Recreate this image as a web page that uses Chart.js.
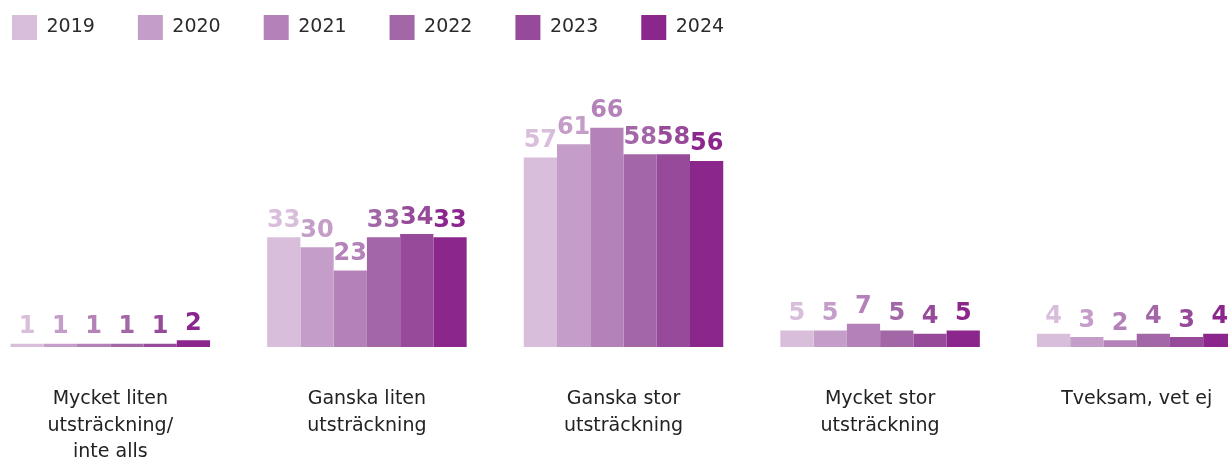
<!DOCTYPE html>
<html>
<head>
<meta charset="utf-8">
<script src="https://cdn.jsdelivr.net/npm/chart.js@4/dist/chart.umd.min.js"></script>
<style>
  html, body { margin: 0; padding: 0; background: #ffffff; overflow: hidden; width: 1228px; height: 459px; }
  #wrap { position: absolute; left: -18px; top: 0; width: 1283px; height: 459px; }
</style>
</head>
<body>
<div id="wrap"><canvas id="c"></canvas></div>
<script>
const categories = [
  ["Mycket liten", "utsträckning/", "inte alls"],
  ["Ganska liten", "utsträckning"],
  ["Ganska stor", "utsträckning"],
  ["Mycket stor", "utsträckning"],
  ["Tveksam, vet ej"]
];
const years = ["2019", "2020", "2021", "2022", "2023", "2024"];
const v2019 = [1, 33, 57, 5, 4];
const v2020 = [1, 30, 61, 5, 3];
const v2021 = [1, 23, 66, 7, 2];
const v2022 = [1, 33, 58, 5, 4];
const v2023 = [1, 34, 58, 4, 3];
const v2024 = [2, 33, 56, 5, 4];
const seriesValues = [v2019, v2020, v2021, v2022, v2023, v2024];
const colors = ["#d9bedc", "#c59dc9", "#b482b9", "#a367a8", "#964a99", "#8b268c"];

const LEGEND_PAD = 43;
const PX_PER_UNIT = 3.323;

const valueLabels = {
  id: 'valueLabels',
  afterDatasetsDraw(chart) {
    const ctx = chart.ctx;
    ctx.save();
    ctx.font = "bold 24px 'DejaVu Sans', sans-serif";
    ctx.textAlign = 'center';
    ctx.textBaseline = 'alphabetic';
    chart.data.datasets.forEach((ds, i) => {
      const meta = chart.getDatasetMeta(i);
      ctx.fillStyle = ds.backgroundColor;
      meta.data.forEach((el, j) => {
        ctx.fillText(String(ds.data[j]), el.x, el.y - 10.5);
      });
    });
    ctx.restore();
  }
};

const layoutFix = {
  id: 'layoutFix',
  afterLayout(chart) {
    const lg = chart.legend;
    if (lg) {
      lg.left = 30 - LEGEND_PAD;
      lg.top = 15 - LEGEND_PAD;
    }
    const y = chart.scales.y;
    y.max = (y.bottom - y.top) / PX_PER_UNIT;
    y.configure();
  }
};

new Chart(document.getElementById('c'), {
  type: 'bar',
  data: {
    labels: categories,
    datasets: years.map((y, i) => ({
      label: y,
      data: seriesValues[i],
      backgroundColor: colors[i],
      borderWidth: 0,
      categoryPercentage: 0.7775,
      barPercentage: 1.0
    }))
  },
  options: {
    responsive: true,
    maintainAspectRatio: false,
    animation: false,
    devicePixelRatio: 1,
    layout: { padding: 0 },
    plugins: {
      legend: {
        display: true,
        position: 'top',
        align: 'start',
        labels: {
          boxWidth: 25,
          boxHeight: 25,
          padding: LEGEND_PAD,
          color: '#2b2b2b',
          font: { family: "'DejaVu Sans', sans-serif", size: 19 }
        }
      },
      tooltip: { enabled: false }
    },
    scales: {
      x: {
        grid: { display: false, drawTicks: false },
        border: { display: false },
        ticks: {
          color: '#222222',
          padding: 39,
          maxRotation: 0,
          autoSkip: false,
          font: { family: "'DejaVu Sans', sans-serif", size: 19, lineHeight: 1.4 }
        },
        afterFit(scale) { scale.height = 112; }
      },
      y: {
        display: false,
        min: 0,
        max: 80
      }
    }
  },
  plugins: [valueLabels, layoutFix]
});
</script>
</body>
</html>
